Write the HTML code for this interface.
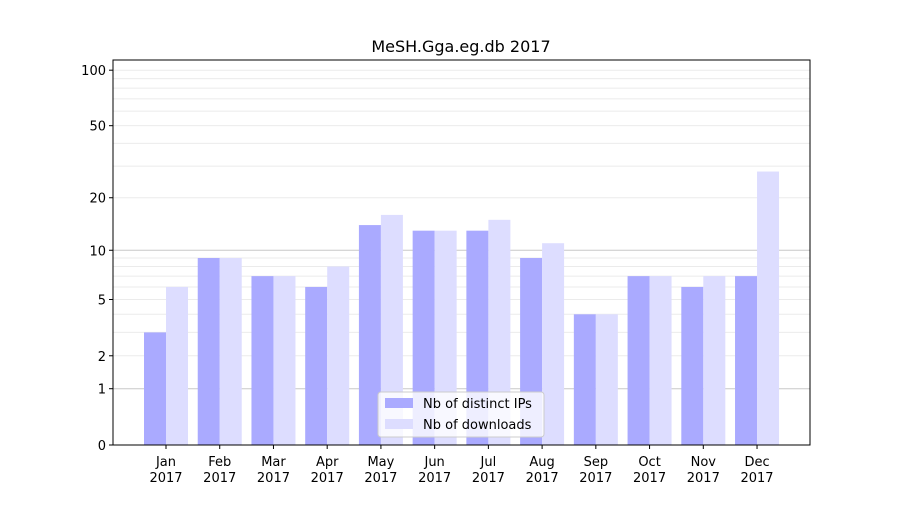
<!DOCTYPE html>
<html><head><meta charset="utf-8"><style>
body{margin:0;background:#fff;font-family:"Liberation Sans","DejaVu Sans",sans-serif}
</style></head><body>
<svg id="chart" width="900" height="500" xmlns="http://www.w3.org/2000/svg" font-family="DejaVu Sans, Liberation Sans, sans-serif">
<rect width="900" height="500" fill="#fff"/>
<text x="461" y="52" text-anchor="middle" font-size="16">MeSH.Gga.eg.db 2017</text>
<g id="grid"></g><g id="bars"></g><g id="axes"></g>
<g>
<rect x="378" y="392" width="166" height="45" fill="#fff" fill-opacity="0.8" stroke="#ccc" rx="3"/>
<rect x="385" y="398" width="28" height="10" fill="#aaaaff"/>
<text x="423" y="408" font-size="13">Nb of distinct IPs</text>
<rect x="385" y="419" width="28" height="10" fill="#ddddff"/>
<text x="423" y="429" font-size="13">Nb of downloads</text>
</g>
</svg>
<script>
const categories=["Jan","Feb","Mar","Apr","May","Jun","Jul","Aug","Sep","Oct","Nov","Dec"];
const ips=[3,9,7,6,14,13,13,9,4,7,6,7];
const downloads=[6,9,7,8,16,13,15,11,4,7,7,28];
const yTicks=[0,1,2,5,10,20,50,100];
const NS="http://www.w3.org/2000/svg";
const L=113,R=810,T=60,B=445;
function y(v){return B-187*Math.log10(1+v);}
function xc(i){return 166+i*53.73;}
function mk(t,a,p){const e=document.createElementNS(NS,t);for(const k in a)e.setAttribute(k,a[k]);p.appendChild(e);return e;}
const grid=document.getElementById('grid'),bars=document.getElementById('bars'),axes=document.getElementById('axes');
const minors=[2,3,4,5,6,7,8,9,20,30,40,50,60,70,80,90,100];
minors.forEach(v=>{const g=mk('line',{x1:L,x2:R,y1:y(v),y2:y(v),stroke:'#ebebeb','stroke-width':1},grid);

});
[1,10].forEach(v=>{const g=mk('line',{x1:L,x2:R,y1:y(v),y2:y(v),stroke:'#c8c8c8','stroke-width':1},grid);

});
categories.forEach((c,i)=>{
const b1=mk('rect',{x:xc(i)-22,y:y(ips[i]),width:22,height:B-y(ips[i]),fill:'#aaaaff'},bars);


const b2=mk('rect',{x:xc(i),y:y(downloads[i]),width:22,height:B-y(downloads[i]),fill:'#ddddff'},bars);


mk('line',{x1:xc(i),x2:xc(i),y1:B,y2:B+4,stroke:'#000'},axes);
const t=mk('text',{x:xc(i),y:B+21,'text-anchor':'middle','font-size':13},axes);


mk('tspan',{x:xc(i)},t).textContent=c;
mk('tspan',{x:xc(i),dy:16},t).textContent='2017';
});
yTicks.forEach(v=>{
mk('line',{x1:L-4,x2:L,y1:y(v),y2:y(v),stroke:'#000'},axes);
const t=mk('text',{x:L-7,y:y(v)+5,'text-anchor':'end','font-size':13},axes);


t.textContent=v;
});
const f=mk('rect',{x:L,y:T,width:R-L,height:B-T,fill:'none',stroke:'#000','stroke-width':1},axes);


</script>
</body></html>
